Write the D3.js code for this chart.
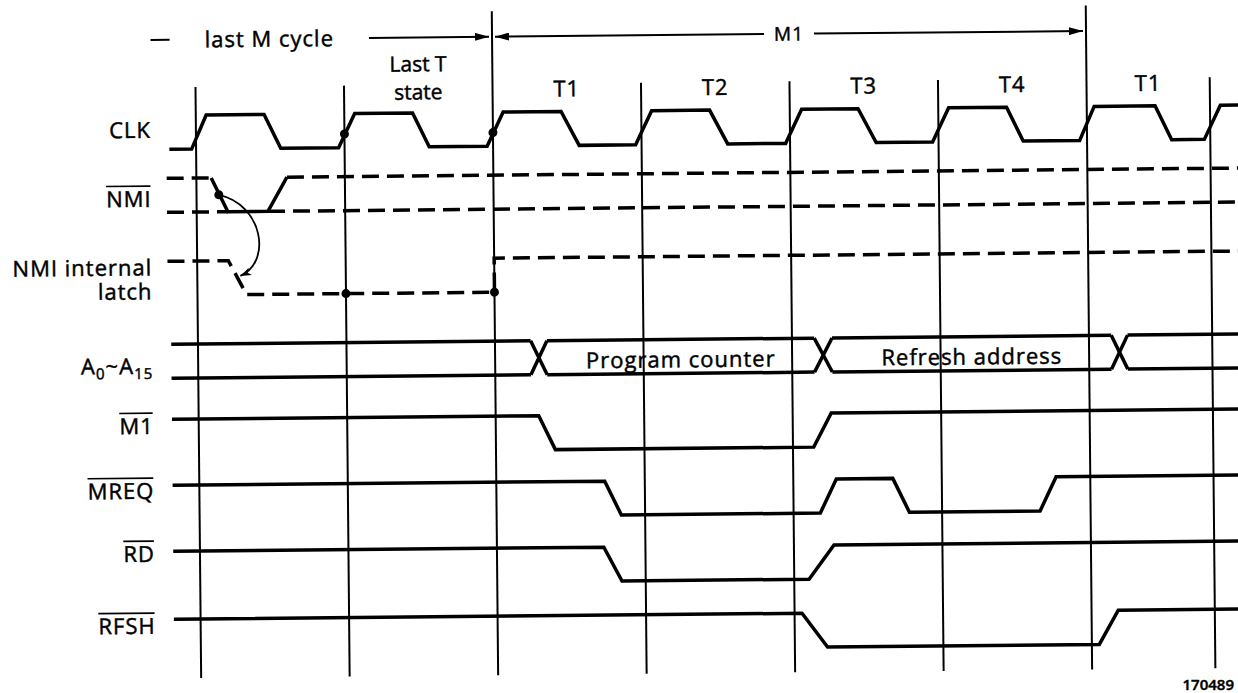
<!DOCTYPE html>
<html>
<head>
<meta charset="utf-8">
<script src="https://cdnjs.cloudflare.com/ajax/libs/d3/7.8.5/d3.min.js"></script>
<style>
  html, body { margin: 0; padding: 0; background: #fff; }
  svg { display: block; }
  text { font-family: "Open Sans", "DejaVu Sans", sans-serif; fill: #000; stroke: #000; stroke-width: 0.45px; }
</style>
</head>
<body>
<svg width="1238" height="693"></svg>
<script>
// time is counted in T states, t = 0 at the CLK rising edge that opens T(n-1)
const rows = ['CLK', 'NMI', 'LATCH', 'ADDR', 'M1', 'MREQ', 'RD', 'RFSH'];

const clockEdges = [0, 1, 2, 3, 4, 5, 6, 6.83];
const mCycleEdges = [2, 6];

const tStates = [
  { label: ['Last T', 'state'], from: 1, to: 2 },
  { label: ['T1'], from: 2, to: 3 },
  { label: ['T2'], from: 3, to: 4 },
  { label: ['T3'], from: 4, to: 5 },
  { label: ['T4'], from: 5, to: 6 },
  { label: ['T1'], from: 6, to: 6.83 }
];

const mCycles = [
  { label: 'last M cycle', from: -0.3, to: 2, labelAt: 0.5, arrowStart: false },
  { label: 'M1', from: 2, to: 6, labelAt: 4, arrowStart: true }
];

// [t, level]  level 1 = high, 0 = low
const clkWave = [
  [-0.18, 0], [-0.03, 0], [0.07, 1], [0.46, 1], [0.57, 0],
  [0.96, 0], [1.07, 1], [1.46, 1], [1.57, 0],
  [1.96, 0], [2.07, 1], [2.46, 1], [2.58, 0],
  [2.96, 0], [3.07, 1], [3.46, 1], [3.58, 0],
  [3.97, 0], [4.08, 1], [4.46, 1], [4.58, 0],
  [4.96, 0], [5.07, 1], [5.46, 1], [5.57, 0],
  [5.95, 0], [6.05, 1], [6.46, 1], [6.57, 0],
  [6.79, 0], [6.9, 1], [7.05, 1]
];

const nmiPulse = [[0.1, 1], [0.21, 0], [0.48, 0], [0.61, 1]];
const nmiDashed = [
  [[-0.2, 1], [0.1, 1]],
  [[0.61, 1], [7.05, 1]],
  [[-0.2, 0], [0.21, 0]],
  [[0.48, 0], [7.05, 0]]
];
const latchWave = [[-0.2, 1], [0.21, 1], [0.33, 0], [2, 0], [2, 1], [7.05, 1]];

const busSegments = [
  { from: -0.18, to: 2.24, label: '' },
  { from: 2.35, to: 4.15, label: 'Program counter' },
  { from: 4.27, to: 6.15, label: 'Refresh address' },
  { from: 6.26, to: 7.05, label: '' }
];

const m1Wave = [[-0.18, 1], [2.29, 1], [2.4, 0], [4.14, 0], [4.26, 1], [7.05, 1]];
const mreqWave = [[-0.18, 1], [2.73, 1], [2.84, 0], [4.18, 0], [4.29, 1], [4.67, 1],
  [4.78, 0], [5.66, 0], [5.77, 1], [7.05, 1]];
const rdWave = [[-0.18, 1], [2.72, 1], [2.84, 0], [4.1, 0], [4.27, 1], [7.05, 1]];
const rfshWave = [[-0.18, 1], [4.05, 1], [4.22, 0], [6.05, 0], [6.18, 1], [7.05, 1]];

const dots = [
  { row: 'CLK', t: 1, level: 0.4 },
  { row: 'CLK', t: 2, level: 0.4 },
  { row: 'NMI', t: 0.15, level: 0.5 },
  { row: 'LATCH', t: 1, level: 0 },
  { row: 'LATCH', t: 2, level: 0 }
];

const rowLabels = [
  { row: 'CLK', lines: [[{ s: 'CLK' }]] },
  { row: 'NMI', lines: [[{ s: 'NMI' }]], bar: true },
  { row: 'LATCH', lines: [[{ s: 'NMI internal' }], [{ s: 'latch' }]] },
  { row: 'ADDR', lines: [[{ s: 'A' }, { s: '0', sub: true }, { s: '~A' }, { s: '15', sub: true }]] },
  { row: 'M1', lines: [[{ s: 'M1' }]], bar: true },
  { row: 'MREQ', lines: [[{ s: 'MREQ' }]], bar: true },
  { row: 'RD', lines: [[{ s: 'RD' }]], bar: true },
  { row: 'RFSH', lines: [[{ s: 'RFSH' }]], bar: true }
];

const figureCode = '170489';

// ---- layout ----
const svg = d3.select('svg');
// the printed figure sits slightly skewed on the page
const g = svg.append('g').attr('transform', 'rotate(-0.55, 619, 346)');

const x = d3.scaleLinear().domain([0, 6]).range([198, 1089]);
const rowTop = d3.scaleOrdinal().domain(rows)
  .range([111, 174, 257, 340, 415, 481, 547, 615]);
const level = d3.scaleLinear().domain([0, 1]).range([34, 0]);
const yOf = (row, lv) => rowTop(row) + level(lv);

// label centre offsets from the top of each row
const labelCentre = {
  CLK: [14.5], NMI: [20.5], LATCH: [6, 30], ADDR: [21.5],
  M1: [6.5], MREQ: [5.5], RD: [2.5], RFSH: [6.5]
};

const fs = 22;
const sigWidth = 3.5;
const dash = '17,8';

const defs = svg.append('defs');
defs.append('marker')
  .attr('id', 'head')
  .attr('viewBox', '0 0 14 8')
  .attr('refX', 14).attr('refY', 4)
  .attr('markerWidth', 14).attr('markerHeight', 8)
  .attr('markerUnits', 'userSpaceOnUse')
  .attr('orient', 'auto-start-reverse')
  .append('path').attr('d', 'M0,0 L14,4 L0,8 z').attr('fill', '#000');
defs.append('marker')
  .attr('id', 'small')
  .attr('viewBox', '0 0 11 8')
  .attr('refX', 11).attr('refY', 4)
  .attr('markerWidth', 11).attr('markerHeight', 8)
  .attr('markerUnits', 'userSpaceOnUse')
  .attr('orient', 'auto')
  .append('path').attr('d', 'M0,0 L11,4 L0,8 L3,4 z').attr('fill', '#000');

// clock edge lines
g.selectAll('line.edge')
  .data(clockEdges)
  .join('line')
  .attr('class', 'edge')
  .attr('x1', (d) => x(d)).attr('x2', (d) => x(d))
  .attr('y1', (d) => (mCycleEdges.includes(d) ? 10 : 83))
  .attr('y2', 674)
  .attr('stroke', '#000')
  .attr('stroke-width', 2);

const wave = (row) => d3.line().x((d) => x(d[0])).y((d) => yOf(row, d[1]));

const solid = [
  ['CLK', clkWave], ['NMI', nmiPulse], ['M1', m1Wave],
  ['MREQ', mreqWave], ['RD', rdWave], ['RFSH', rfshWave]
];
solid.forEach(([row, pts]) => {
  g.append('path')
    .attr('d', wave(row)(pts))
    .attr('fill', 'none')
    .attr('stroke', '#000')
    .attr('stroke-width', sigWidth)
    .attr('stroke-linejoin', 'miter');
});

nmiDashed.forEach((pts) => {
  g.append('path')
    .attr('d', wave('NMI')(pts))
    .attr('fill', 'none')
    .attr('stroke', '#000')
    .attr('stroke-width', sigWidth)
    .attr('stroke-dasharray', dash);
});

g.append('path')
  .attr('d', wave('LATCH')(latchWave))
  .attr('fill', 'none')
  .attr('stroke', '#000')
  .attr('stroke-width', sigWidth)
  .attr('stroke-dasharray', dash);

// address bus
const bus = g.append('g').attr('stroke', '#000').attr('stroke-width', sigWidth).attr('fill', 'none');
busSegments.forEach((seg, i) => {
  [0, 1].forEach((lv) => {
    bus.append('line')
      .attr('x1', x(seg.from)).attr('x2', x(seg.to))
      .attr('y1', yOf('ADDR', lv)).attr('y2', yOf('ADDR', lv));
  });
  if (i > 0) {
    const prev = busSegments[i - 1];
    [[1, 0], [0, 1]].forEach(([a, b]) => {
      bus.append('line')
        .attr('x1', x(prev.to)).attr('y1', yOf('ADDR', a))
        .attr('x2', x(seg.from)).attr('y2', yOf('ADDR', b));
    });
  }
});
g.selectAll('text.bus')
  .data(busSegments.filter((d) => d.label))
  .join('text')
  .attr('class', 'bus')
  .attr('x', (d) => x((d.from + d.to) / 2))
  .attr('y', yOf('ADDR', 0.5) + 3 + 0.357 * fs)
  .attr('text-anchor', 'middle')
  .attr('font-size', fs)
  .attr('letter-spacing', 1)
  .text((d) => d.label);

// dots
g.selectAll('circle.dot')
  .data(dots)
  .join('circle')
  .attr('class', 'dot')
  .attr('cx', (d) => x(d.t))
  .attr('cy', (d) => yOf(d.row, d.level))
  .attr('r', 4.5)
  .attr('fill', '#000');

// NMI -> internal latch cause arrow
const p0 = [x(0.15), yOf('NMI', 0.5)];
const p3 = [x(0.29), yOf('LATCH', 0.55)];
g.append('path')
  .attr('d', `M${p0[0]},${p0[1]} C${p0[0] + 44},${p0[1] + 10} ${p3[0] + 32},${p3[1] - 14} ${p3[0]},${p3[1]}`)
  .attr('fill', 'none')
  .attr('stroke', '#000')
  .attr('stroke-width', 1.8)
  .attr('marker-end', 'url(#small)');

// row labels (one text element per row, one positioned tspan per label line)
const labelRight = 153;
const subDrop = 5;
rowLabels.forEach((lab) => {
  const offs = labelCentre[lab.row];
  const t = g.append('text')
    .attr('text-anchor', 'end')
    .attr('font-size', fs)
    .attr('letter-spacing', 1);
  lab.lines.forEach((parts, li) => {
    const base = rowTop(lab.row) + offs[li] + 0.357 * fs;
    let dropped = false;
    parts.forEach((p, pi) => {
      const ts = t.append('tspan')
        .attr('font-size', p.sub ? 15 : fs)
        .text(p.s);
      if (pi === 0) {
        ts.attr('x', labelRight).attr('y', base);
      } else {
        // relative shifts only, so the whole line stays one anchored chunk
        const dy = (p.sub ? subDrop : 0) - (dropped ? subDrop : 0);
        ts.attr('dy', dy);
      }
      dropped = !!p.sub;
    });
  });
  if (lab.bar) {
    const bb = t.node().getBBox();
    const yb = rowTop(lab.row) + offs[0] - 0.357 * fs - 5;
    g.append('line')
      .attr('x1', bb.x).attr('x2', bb.x + bb.width - 1)
      .attr('y1', yb).attr('y2', yb)
      .attr('stroke', '#000')
      .attr('stroke-width', 1.6);
  }
});

// T state labels
tStates.forEach((ts) => {
  const two = ts.label.length > 1;
  const size = two ? 21 : fs;
  const centres = two ? [62, 90] : [88];
  const t = g.append('text')
    .attr('text-anchor', 'middle')
    .attr('font-size', size)
    .attr('letter-spacing', two ? 0 : 1);
  ts.label.forEach((s, i) => {
    t.append('tspan')
      .attr('x', x((ts.from + ts.to) / 2))
      .attr('y', centres[i] + 0.357 * size)
      .text(s);
  });
});

// machine cycle arrows
const arrowY = 35.5;
const gapPad = [35, 10];
mCycles.forEach((mc, i) => {
  const size = i === 0 ? fs : 19;
  const cx = x(mc.labelAt);
  const t = g.append('text')
    .attr('x', cx)
    .attr('y', arrowY + 0.357 * size)
    .attr('text-anchor', 'middle')
    .attr('font-size', size)
    .attr('letter-spacing', 1)
    .text(mc.label);
  const half = t.node().getComputedTextLength() / 2;
  const left = g.append('line')
    .attr('x1', x(mc.from) + (mc.arrowStart ? 3 : 0)).attr('x2', cx - half - gapPad[i])
    .attr('y1', arrowY).attr('y2', arrowY)
    .attr('stroke', '#000').attr('stroke-width', 2);
  if (mc.arrowStart) left.attr('marker-start', 'url(#head)');
  g.append('line')
    .attr('x1', cx + half + gapPad[i]).attr('x2', x(mc.to) - 3)
    .attr('y1', arrowY).attr('y2', arrowY)
    .attr('stroke', '#000').attr('stroke-width', 2)
    .attr('marker-end', 'url(#head)');
});

svg.append('text')
  .attr('x', 1234)
  .attr('y', 685 + 0.357 * 15)
  .attr('text-anchor', 'end')
  .attr('font-size', 15)
  .attr('font-weight', 600)
  .text(figureCode);
</script>
</body>
</html>
